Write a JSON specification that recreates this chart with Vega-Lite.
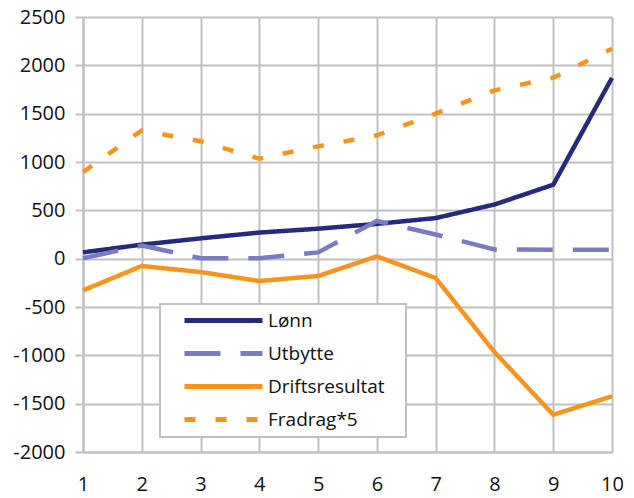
{
  "$schema": "https://vega.github.io/schema/vega-lite/v6.json",
  "width": 529,
  "height": 435,
  "autosize": {"type": "none"},
  "padding": {"left": 83, "top": 17, "right": 22, "bottom": 46},
  "background": "white",
  "config": {
    "view": {"stroke": null},
    "font": "Open Sans",
    "legend": {"strokeWidth": 2},
    "axis": {
      "gridColor": "#c0c0c0",
      "gridWidth": 2,
      "domainColor": "#c0c0c0",
      "domainWidth": 2,
      "tickColor": "#c0c0c0",
      "tickWidth": 2,
      "labelFont": "Open Sans",
      "labelFontSize": 20,
      "labelColor": "#111111",
      "labelExpr": "'' + datum.value",
      "title": null
    }
  },
  "data": {
    "values": [
      {"x": 1, "serie": "Lønn", "v": 65},
      {"x": 2, "serie": "Lønn", "v": 145},
      {"x": 3, "serie": "Lønn", "v": 210},
      {"x": 4, "serie": "Lønn", "v": 270},
      {"x": 5, "serie": "Lønn", "v": 310},
      {"x": 6, "serie": "Lønn", "v": 360},
      {"x": 7, "serie": "Lønn", "v": 420},
      {"x": 8, "serie": "Lønn", "v": 560},
      {"x": 9, "serie": "Lønn", "v": 765},
      {"x": 10, "serie": "Lønn", "v": 1870},
      {"x": 1, "serie": "Utbytte", "v": 5},
      {"x": 2, "serie": "Utbytte", "v": 135},
      {"x": 3, "serie": "Utbytte", "v": 5},
      {"x": 4, "serie": "Utbytte", "v": 5},
      {"x": 5, "serie": "Utbytte", "v": 65},
      {"x": 6, "serie": "Utbytte", "v": 390},
      {"x": 7, "serie": "Utbytte", "v": 250},
      {"x": 8, "serie": "Utbytte", "v": 95},
      {"x": 9, "serie": "Utbytte", "v": 92},
      {"x": 10, "serie": "Utbytte", "v": 93},
      {"x": 1, "serie": "Driftsresultat", "v": -328},
      {"x": 2, "serie": "Driftsresultat", "v": -76},
      {"x": 3, "serie": "Driftsresultat", "v": -138},
      {"x": 4, "serie": "Driftsresultat", "v": -231},
      {"x": 5, "serie": "Driftsresultat", "v": -179},
      {"x": 6, "serie": "Driftsresultat", "v": 24},
      {"x": 7, "serie": "Driftsresultat", "v": -200},
      {"x": 8, "serie": "Driftsresultat", "v": -966},
      {"x": 9, "serie": "Driftsresultat", "v": -1614},
      {"x": 10, "serie": "Driftsresultat", "v": -1424},
      {"x": 1, "serie": "Fradrag*5", "v": 896},
      {"x": 2, "serie": "Fradrag*5", "v": 1327},
      {"x": 3, "serie": "Fradrag*5", "v": 1215},
      {"x": 4, "serie": "Fradrag*5", "v": 1034},
      {"x": 5, "serie": "Fradrag*5", "v": 1162},
      {"x": 6, "serie": "Fradrag*5", "v": 1276},
      {"x": 7, "serie": "Fradrag*5", "v": 1500},
      {"x": 8, "serie": "Fradrag*5", "v": 1741},
      {"x": 9, "serie": "Fradrag*5", "v": 1872},
      {"x": 10, "serie": "Fradrag*5", "v": 2172}
    ]
  },
  "mark": {"type": "line", "strokeWidth": 4.5, "strokeCap": "butt", "strokeJoin": "miter"},
  "encoding": {
    "x": {
      "field": "x",
      "type": "quantitative",
      "scale": {"domain": [1, 10], "nice": false, "zero": false},
      "axis": {
        "values": [1, 2, 3, 4, 5, 6, 7, 8, 9, 10],
        "ticks": false,
        "labelPadding": 22,
        "labelFlush": false
      }
    },
    "y": {
      "field": "v",
      "type": "quantitative",
      "scale": {"domain": [-2000, 2500], "nice": false},
      "axis": {
        "values": [-2000, -1500, -1000, -500, 0, 500, 1000, 1500, 2000, 2500],
        "tickSize": 8,
        "labelPadding": 10
      }
    },
    "color": {
      "field": "serie",
      "type": "nominal",
      "scale": {
        "domain": ["Lønn", "Utbytte", "Driftsresultat", "Fradrag*5"],
        "range": ["#262a7c", "#7b7bbf", "#f7941d", "#f7941d"]
      },
      "legend": {
        "title": " ",
        "titleOrient": "right",
        "titleFontSize": 2,
        "titlePadding": 14,
        "orient": "none",
        "legendX": 77,
        "legendY": 287,
        "padding": 7,
        "symbolOffset": 13,
        "strokeColor": "#c0c0c0",
        "fillColor": "white",
        "symbolType": "M-1,0H14.6",
        "symbolSize": 100,
        "symbolStrokeWidth": 5,
        "labelFont": "Open Sans",
        "labelFontSize": 19,
        "labelColor": "#111111",
        "labelOffset": 69,
        "rowPadding": 12
      }
    },
    "strokeDash": {
      "field": "serie",
      "type": "nominal",
      "scale": {
        "domain": ["Lønn", "Utbytte", "Driftsresultat", "Fradrag*5"],
        "range": [[1, 0], [36, 20], [1, 0], [11, 20]]
      },
      "legend": null
    }
  }
}
